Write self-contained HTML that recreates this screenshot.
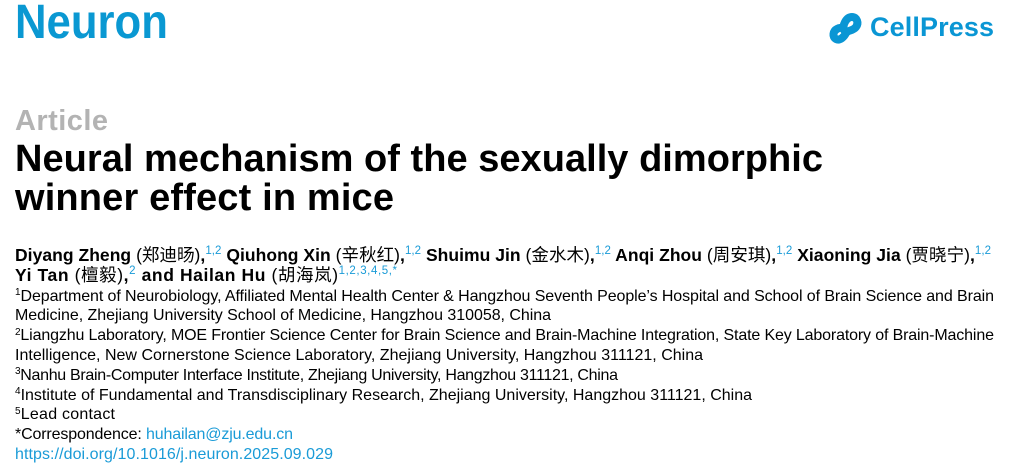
<!DOCTYPE html>
<html>
<head>
<meta charset="utf-8">
<style>
  html, body { margin:0; padding:0; background:#fff; }
  body { width:1021px; height:476px; position:relative; overflow:hidden;
         font-family:"Liberation Sans","Noto Sans CJK SC",sans-serif; color:#000; }
  .ln { position:absolute; left:15px; white-space:nowrap; line-height:1; display:inline-block; }
  .logo { font-weight:bold; color:#0a98d2; font-size:48px; top:-1px; left:15px;
          transform:scaleX(0.91); transform-origin:0 0; }
  .cp { font-weight:bold; color:#0a96d4; font-size:27px; left:870px; top:14px; }
  .art { font-weight:bold; color:#b3b3b3; font-size:29px; top:106.5px; }
  .ttl { font-weight:bold; font-size:38px; }
  .au { font-weight:bold; font-size:17.5px; }
  .au .cn { font-weight:normal; font-family:"Liberation Sans","Noto Sans CJK SC",sans-serif; }
  .au sup { color:#1a9bd7; font-weight:normal; font-size:11.5px; vertical-align:0; position:relative; top:-6.5px; }
  .af { font-size:16px; }
  .af sup { font-size:10px; vertical-align:0; position:relative; top:-5.5px; }
  .bl { color:#1a9bd7; }
</style>
</head>
<body>

<div class="ln logo">Neuron</div>

<svg style="position:absolute;left:826px;top:8px" width="40" height="40" viewBox="826 8 40 40">
  <g fill="none" stroke="#0a96d4" stroke-width="8" stroke-linecap="round">
    <path d="M 844 30 C 842 26, 846 17, 852 17 C 857 17, 859 23, 856 27 C 853 31, 848 30, 846 33"/>
    <path d="M 846 33 C 844 37, 840 41, 836 39 C 832 37, 833 31, 837 29 C 840 27, 843 28, 844 30"/>
  </g>
</svg>
<div class="ln cp">CellPress</div>

<div class="ln art">Article</div>

<div class="ln ttl" style="top:139.8px">Neural mechanism of the sexually dimorphic</div>
<div class="ln ttl" style="top:178.8px">winner effect in mice</div>

<div class="ln au" style="top:246.7px">Diyang Zheng <span class="cn">(郑迪旸)</span>,<sup>1,2</sup> Qiuhong Xin <span class="cn">(辛秋红)</span>,<sup>1,2</sup> Shuimu Jin <span class="cn">(金水木)</span>,<sup>1,2</sup> Anqi Zhou <span class="cn">(周安琪)</span>,<sup>1,2</sup> Xiaoning Jia <span class="cn">(贾晓宁)</span>,<sup>1,2</sup></div>
<div class="ln au" style="top:266.7px">Yi Tan <span class="cn">(檀毅)</span>,<sup>2</sup> and Hailan Hu <span class="cn">(胡海岚)</span><sup>1,2,3,4,5,*</sup></div>

<div class="ln af" style="top:288.5px"><sup>1</sup>Department of Neurobiology, Affiliated Mental Health Center &amp; Hangzhou Seventh People’s Hospital and School of Brain Science and Brain</div>
<div class="ln af" style="top:308.3px">Medicine, Zhejiang University School of Medicine, Hangzhou 310058, China</div>
<div class="ln af" style="top:328.1px"><sup>2</sup>Liangzhu Laboratory, MOE Frontier Science Center for Brain Science and Brain-Machine Integration, State Key Laboratory of Brain-Machine</div>
<div class="ln af" style="top:347.9px">Intelligence, New Cornerstone Science Laboratory, Zhejiang University, Hangzhou 311121, China</div>
<div class="ln af" style="top:367.7px"><sup>3</sup>Nanhu Brain-Computer Interface Institute, Zhejiang University, Hangzhou 311121, China</div>
<div class="ln af" style="top:387.5px"><sup>4</sup>Institute of Fundamental and Transdisciplinary Research, Zhejiang University, Hangzhou 311121, China</div>
<div class="ln af" style="top:407.3px"><sup>5</sup>Lead contact</div>
<div class="ln af" style="top:427.1px">*Correspondence: <span class="bl">huhailan@zju.edu.cn</span></div>
<div class="ln af bl" style="top:446.9px">https://doi.org/10.1016/j.neuron.2025.09.029</div>

<script>
(function(){
  var lines = document.querySelectorAll('.ln');
  var targets = [null, 124, 93, 808, 379, 976, 382, 979, 536, 979, 688, 603, 737, 100, 278, 318];
  for (var i=0;i<lines.length;i++){
    var t = targets[i];
    if (!t) continue;
    var el = lines[i];
    var w = el.getBoundingClientRect().width;
    var n = el.textContent.length;
    if (n > 1) {
      var ls = (t - w) / (n - 1);
      el.style.letterSpacing = ls.toFixed(3) + 'px';
    }
  }
})();
</script>
</body>
</html>
